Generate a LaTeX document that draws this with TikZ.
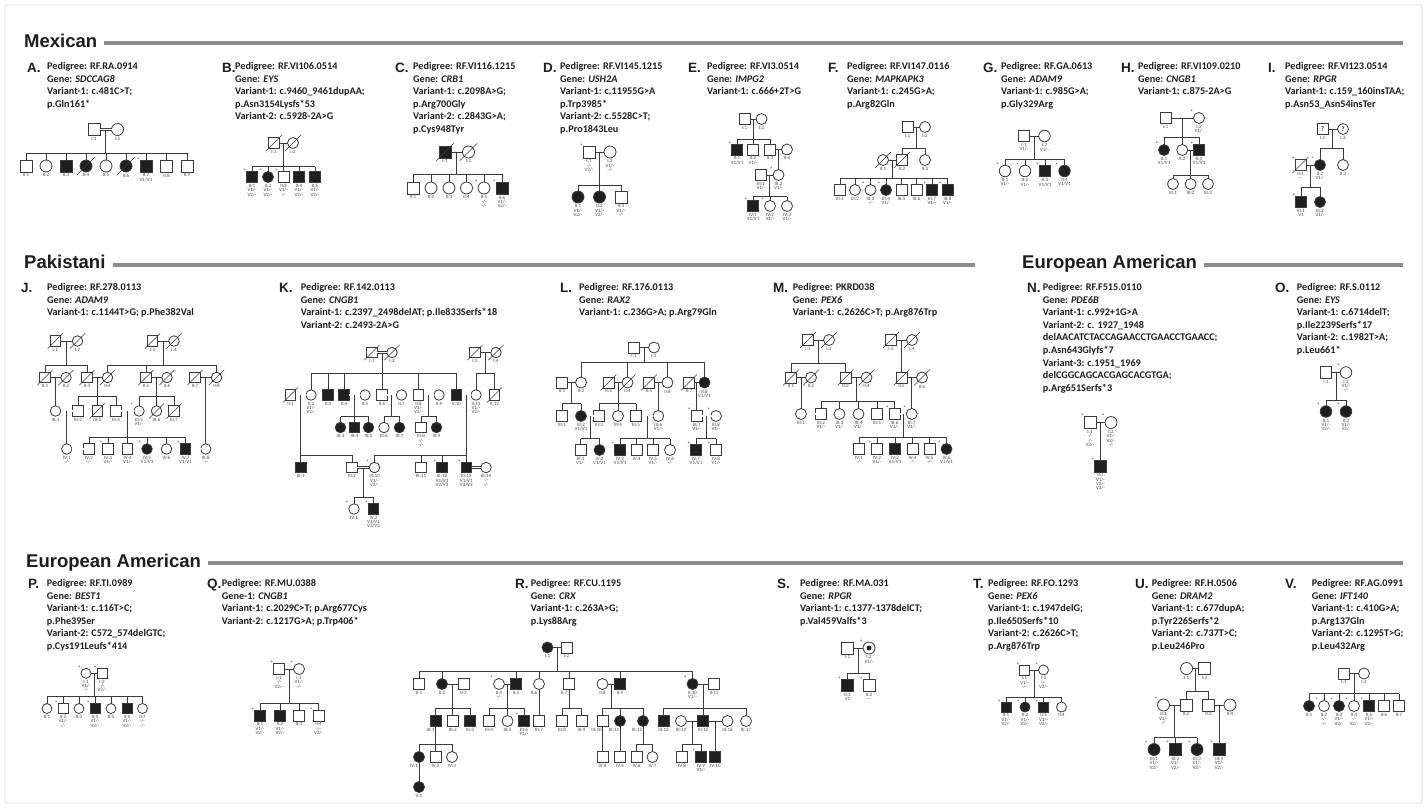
\documentclass[tikz,border=0pt]{standalone}
\usepackage{fontspec}
\setmainfont{Carlito}
\newfontfamily\arialf{Liberation Sans}
\usetikzlibrary{calc}
\definecolor{lc}{HTML}{3A3A3A}
\definecolor{af}{HTML}{1F1F1F}
\definecolor{lt}{HTML}{4A4A4A}
\definecolor{tx}{HTML}{1E1E1E}
\definecolor{barc}{HTML}{8C8C8C}
\newcommand\labfont{\fontsize{5}{4.3}\selectfont}
\def\sz{11}
\tikzset{
 sym/.style={draw=lc,line width=0.8pt,minimum size=\sz pt,inner sep=0pt,outer sep=0pt,fill=white},
 mal/.style={sym,rectangle},
 fem/.style={sym,circle},
 aff/.style={fill=af},
 qm/.style={font=\fontsize{7}{7}\selectfont\bfseries,text=lc},
 lab/.style={font=\labfont,align=center,inner sep=0pt,text=lt,anchor=north},
 ln/.style={draw=lc,line width=0.75pt},
 dbl/.style={draw=lc,line width=0.5pt,double=white,double distance=1.3pt},
 astl/.style={font=\fontsize{6.5}{6.5}\selectfont,inner sep=0pt,text=lt},
 ptx/.style={anchor=base west,inner sep=0pt,font=\fontsize{10.2}{12.6}\selectfont\bfseries,text=tx},
 plet/.style={anchor=base west,inner sep=0pt,font=\arialf\bfseries\fontsize{13.5}{15}\selectfont,text=tx},
 hdr/.style={anchor=base west,inner sep=0pt,font=\arialf\bfseries\fontsize{18.5}{20}\selectfont,text=tx},
 hbar/.style={draw=barc,line width=4pt},
}
\newcommand\pers[5]{\node[#1] (#2) at (#3,#4) {};\node[lab] (#2-l) at (#3,#4+\sz/2+1.5) {#5};}
\newcommand\persx[6]{\node[#1] (#2) at (#3,#4) {};\node[lab] (#2-l) at (#3+#6,#4+\sz/2+1.5) {#5};}
\newcommand\persc[6]{\node[#1] (#2) at (#3,#4) {#6};\node[lab] (#2-l) at (#3,#4+\sz/2+1.5) {#5};}
\newcommand\dcsd[1]{\draw[ln,line width=0.6pt] ([shift={(-0.72*\sz,0.72*\sz)}]#1.center) -- ([shift={(0.72*\sz,-0.72*\sz)}]#1.center);}
\newcommand\astr[1]{\node[astl] (#1-s) at ([shift={(-\sz/2-1.7,-\sz/2-0.3)}]#1.center) {*};}
\newcommand\cpl[3]{\draw[ln] (#1) -- (#2);\coordinate (#3) at ($(#1)!0.5!(#2)$);}
\newcommand\cpld[3]{\draw[dbl] (#1) -- (#2);\coordinate (#3) at ($(#1)!0.5!(#2)$);}
\newcommand\dropl[2]{\draw[ln] (#1) -- (#1 |- #2.north);}
\newcommand\sibs[5]{\coordinate (#1-sl) at (0,#2);\draw[ln] (#1) -- (#1 |- #1-sl);\draw[ln] (#3.north |- #1-sl) -- (#4.north |- #1-sl);\foreach \kk in {#5}{\draw[ln] (\kk.north) -- (\kk.north |- #1-sl);}}
\newcommand\ptext[4]{\foreach \qq [count=\nn] in {#4}{\node[ptx] (#1-t\nn) at (#2,#3+12.6*\nn-12.6) {\qq};}}
\begin{document}
\begin{tikzpicture}[x=1pt,y=-1pt]
\useasboundingbox (0,0) rectangle (1427,807);
\fill[white] (0,0) rectangle (1427,807);
\draw[black!14,line width=0.8pt,rounded corners=2pt] (5,5) rectangle (1422,803);
% ---------- headers
\node[hdr] (hMex) at (24,47) {Mexican};
\coordinate (eMex) at (1403,0);
\draw[hbar] ([shift={(7,-4)}]hMex.base east) coordinate (sMex) -- (sMex -| eMex);
\node[hdr] (hPak) at (24,268.5) {Pakistani};
\coordinate (ePak) at (975,0);
\draw[hbar] ([shift={(7,-4)}]hPak.base east) coordinate (sPak) -- (sPak -| ePak);
\node[hdr] (hEA1) at (1022,268.5) {European American};
\draw[hbar] ([shift={(7,-4)}]hEA1.base east) coordinate (sEA1) -- (sEA1 -| eMex);
\node[hdr] (hEA2) at (26,567) {European American};
\draw[hbar] ([shift={(7,-4)}]hEA2.base east) coordinate (sEA2) -- (sEA2 -| eMex);
% ================= A
\def\sz{12}
\node[plet] (A-let) at (27,72.5) {A.};
\ptext{A}{47}{69.4}{Pedigree: RF.RA.0914,Gene: \textit{SDCCAG8},Variant-1: c.481C>T;,p.Gln161*}
\pers{mal}{A-I1}{94}{129.5}{I:1}
\pers{fem}{A-I2}{117.5}{129.5}{I:2}
\cpld{A-I1}{A-I2}{A-c1}
\pers{mal}{A-II1}{26}{166}{II:1}
\pers{fem}{A-II2}{46}{166}{II:2}
\pers{mal,aff}{A-II3}{66}{166}{II:3}
\pers{fem,aff}{A-II4}{86}{166}{II:4}\dcsd{A-II4}
\pers{fem}{A-II5}{106}{166}{II:5}
\pers{fem,aff}{A-II6}{126}{166}{II:6}\dcsd{A-II6}
\pers{mal,aff}{A-II7}{146}{166}{II:7\\V1/V1}\astr{A-II7}
\pers{mal}{A-II8}{166.5}{166}{II:8}
\pers{mal}{A-II9}{187}{166}{II:9}
\sibs{A-c1}{153}{A-II1}{A-II9}{A-II1,A-II2,A-II3,A-II4,A-II5,A-II6,A-II7,A-II8,A-II9}
% ================= B
\def\sz{11}
\node[plet] (B-let) at (222,72.5) {B.};
\ptext{B}{235}{69.4}{Pedigree: RF.VI106.0514,Gene: \textit{EYS},Variant-1: c.9460\_9461dupAA;,p.Asn3154Lysfs*53,Variant-2: c.5928-2A>G}
\pers{mal}{B-I1}{274}{143}{I:1}\dcsd{B-I1}
\pers{fem}{B-I2}{293}{143}{I:2}\dcsd{B-I2}
\cpl{B-I1}{B-I2}{B-c1}
\pers{mal,aff}{B-II1}{252}{177}{II:1\\V1/-\\V2/-}\astr{B-II1}
\pers{fem,aff}{B-II2}{268}{177}{II:2\\V1/-\\V2/-}\astr{B-II2}
\pers{mal}{B-II3}{283.5}{177}{II:3\\V1/-\\-/-}\astr{B-II3}
\pers{mal,aff}{B-II4}{299}{177}{II:4\\V1/-\\V2/-}
\pers{mal,aff}{B-II5}{315}{177}{II:5\\V1/-\\V2/-}
\sibs{B-c1}{166.5}{B-II1}{B-II5}{B-II1,B-II2,B-II3,B-II4,B-II5}
% ================= C
\def\sz{12}
\node[plet] (C-let) at (395,72.5) {C.};
\ptext{C}{413}{69.4}{Pedigree: RF.VI116.1215,Gene: \textit{CRB1},Variant-1: c.2098A>G;,p.Arg700Gly,Variant-2: c.2843G>A;,p.Cys948Tyr}
\pers{mal,aff}{C-I1}{445}{152}{I:1}\dcsd{C-I1}
\pers{fem}{C-I2}{468.5}{152}{I:2}\dcsd{C-I2}
\cpl{C-I1}{C-I2}{C-c1}
\pers{mal}{C-II1}{413}{188}{II:1}
\pers{fem}{C-II2}{431}{188}{II:2}
\pers{fem}{C-II3}{449}{188}{II:3}
\pers{fem}{C-II4}{466.5}{188}{II:4}
\pers{fem}{C-II5}{484}{188}{II:5\\-/-\\-/-}\astr{C-II5}
\pers{mal,aff}{C-II6}{502}{188}{II:6\\V1/-\\V2/-}\astr{C-II6}
\sibs{C-c1}{174}{C-II1}{C-II6}{C-II1,C-II2,C-II3,C-II4,C-II5,C-II6}
% ================= D
\def\sz{12}
\node[plet] (D-let) at (543,72.5) {D.};
\ptext{D}{560}{69.4}{Pedigree: RF.VI145.1215,Gene: \textit{USH2A},Variant-1: c.11955G>A,p.Trp3985*,Variant-2: c.5528C>T;,p.Pro1843Leu}
\pers{mal}{D-I1}{589}{152}{I:1\\-/-\\V2/-}\astr{D-I1}
\pers{fem}{D-I2}{610}{152}{I:2\\V1/-\\-/-}
\cpl{D-I1}{D-I2}{D-c1}
\pers{fem,aff}{D-II1}{578}{197}{II:1\\V1/-\\V2/-}
\pers{fem,aff}{D-II2}{599.5}{197}{II:2\\V1/-\\V2/-}
\pers{mal}{D-II3}{621}{197}{II:3\\V1/-\\-/-}
\sibs{D-c1}{185}{D-II1}{D-II3}{D-II1,D-II2,D-II3}
% ================= E
\def\sz{11}
\node[plet] (E-let) at (688,72.5) {E.};
\ptext{E}{707}{69.4}{Pedigree: RF.VI3.0514,Gene: \textit{IMPG2},Variant-1: c.666+2T>G}
\pers{mal}{E-I1}{744.5}{119}{I:1}
\pers{fem}{E-I2}{761.5}{119}{I:2}
\cpl{E-I1}{E-I2}{E-c1}
\pers{mal,aff}{E-II1}{737}{149.5}{II:1\\V1/V1}\astr{E-II1}
\pers{mal}{E-II2}{753}{149.5}{II:2\\V1/-}
\pers{mal}{E-II3}{770}{149.5}{II:3}
\pers{fem}{E-II4}{787}{149.5}{II:4}
\sibs{E-c1}{139}{E-II1}{E-II3}{E-II1,E-II2,E-II3}
\cpl{E-II3}{E-II4}{E-c2}
\pers{mal}{E-III1}{761}{175}{III:1\\V1/-}
\pers{fem}{E-III2}{778.5}{175}{III:2\\V1/-}\astr{E-III2}
\dropl{E-c2}{E-III2}
\cpl{E-III1}{E-III2}{E-c3}
\pers{mal,aff}{E-IV1}{753}{206}{IV:1\\V1/V1}\astr{E-IV1}
\pers{fem}{E-IV2}{770}{206}{IV:2\\V1/-}\astr{E-IV2}
\pers{fem}{E-IV3}{787}{206}{IV:3\\V1/-}
\sibs{E-c3}{196.5}{E-IV1}{E-IV3}{E-IV1,E-IV2,E-IV3}
% ================= F
\def\sz{11}
\node[plet] (F-let) at (828,72.5) {F.};
\ptext{F}{847}{69.4}{Pedigree: RF.VI147.0116,Gene: \textit{MAPKAPK3},Variant-1: c.245G>A;,p.Arg82Gln}
\pers{mal}{F-I1}{907.5}{127}{I:1}
\pers{fem}{F-I2}{925}{127}{I:2}
\cpl{F-I1}{F-I2}{F-c1}
\pers{fem}{F-II1}{883}{160}{II:1}\dcsd{F-II1}
\pers{mal}{F-II2}{902}{160}{II:2}\dcsd{F-II2}
\pers{fem}{F-II3}{925}{160}{II:3}
\sibs{F-c1}{148}{F-II2}{F-II3}{F-II2,F-II3}
\cpl{F-II1}{F-II2}{F-c2}
\pers{mal}{F-III1}{840}{190}{III:1}
\pers{fem}{F-III2}{855}{190}{III:2}
\pers{fem}{F-III3}{870.5}{190}{III:3\\-/-}\astr{F-III3}
\pers{fem,aff}{F-III4}{886}{190}{III:4\\V1/-}\astr{F-III4}
\pers{mal}{F-III5}{901.5}{190}{III:5}
\pers{mal}{F-III6}{916.5}{190}{III:6}
\pers{mal,aff}{F-III7}{932}{190}{III:7\\V1/-}\astr{F-III7}
\pers{mal,aff}{F-III8}{947.5}{190}{III:8\\V1/-}\astr{F-III8}
\sibs{F-c2}{178}{F-III1}{F-III8}{F-III1,F-III2,F-III3,F-III4,F-III5,F-III6,F-III7,F-III8}
% ================= G
\def\sz{11.5}
\node[plet] (G-let) at (983,72.5) {G.};
\ptext{G}{1001}{69.4}{Pedigree: RF.GA.0613,Gene: \textit{ADAM9},Variant-1: c.985G>A;,p.Gly329Arg}
\pers{mal}{G-I1}{1024}{136}{I:1\\V1/-}
\pers{fem}{G-I2}{1044.5}{136}{I:2\\V1/-}
\cpl{G-I1}{G-I2}{G-c1}
\pers{fem}{G-II1}{1005}{171}{II:1\\V1/-}\astr{G-II1}
\pers{fem}{G-II2}{1025}{171}{II:2\\V1/-}\astr{G-II2}
\pers{mal,aff}{G-II3}{1045}{171}{II:3\\V1/V1}\astr{G-II3}
\pers{fem,aff}{G-II4}{1064.5}{171}{II:4\\V1/V1}\astr{G-II4}
\sibs{G-c1}{159}{G-II1}{G-II4}{G-II1,G-II2,G-II3,G-II4}
% ================= H
\def\sz{11}
\node[plet] (H-let) at (1121,72.5) {H.};
\ptext{H}{1138}{69.4}{Pedigree: RF.VI109.0210,Gene: \textit{CNGB1},Variant-1: c.875-2A>G}
\pers{mal}{H-I1}{1165.5}{118}{I:1}
\pers{fem}{H-I2}{1199}{118}{I:2\\V1/-}\astr{H-I2}
\cpl{H-I1}{H-I2}{H-c1}
\pers{fem,aff}{H-II1}{1164}{150}{II:1\\V1/V1}\astr{H-II1}
\pers{fem}{H-II2}{1182.25}{150}{II:2}
\pers{mal,aff}{H-II3}{1199}{150}{II:3\\V1/V1}\astr{H-II3}
\sibs{H-c1}{137}{H-II1}{H-II3}{H-II1,H-II2,H-II3}
\cpl{H-II2}{H-II3}{H-c2}
\pers{fem}{H-III1}{1173}{184}{III:1}
\pers{fem}{H-III2}{1190.6}{184}{III:2}
\pers{fem}{H-III3}{1208}{184}{III:3}
\sibs{H-c2}{175}{H-III1}{H-III3}{H-III1,H-III2,H-III3}
% ================= I
\def\sz{11}
\node[plet] (I-let) at (1268,72.5) {I.};
\ptext{I}{1285}{69.4}{Pedigree: RF.VI123.0514,Gene: \textit{RPGR},Variant-1: c.159\_160insTAA;,p.Asn53\_Asn54insTer}
\persc{mal,qm}{I-I1}{1322.5}{129}{I:1}{?}
\persc{fem,qm}{I-I2}{1343}{129}{I:2}{?}
\cpl{I-I1}{I-I2}{I-c1}
\pers{mal}{I-II1}{1300.5}{165}{II:1\\\textemdash}\dcsd{I-II1}\astr{I-II1}
\pers{fem,aff}{I-II2}{1320}{165}{II:2\\V1/-}\astr{I-II2}
\pers{fem}{I-II3}{1343}{165}{II:3}
\sibs{I-c1}{148}{I-II2}{I-II3}{I-II2,I-II3}
\cpl{I-II1}{I-II2}{I-c2}
\pers{mal,aff}{I-III1}{1301}{202}{III:1\\V1}\astr{I-III1}
\pers{fem,aff}{I-III2}{1320}{202}{III:2\\V1/-}
\sibs{I-c2}{187}{I-III1}{I-III2}{I-III1,I-III2}
% ================= J
\def\sz{10.5}
\node[plet] (J-let) at (21,292.5) {J.};
\ptext{J}{47}{290.4}{Pedigree: RF.278.0113,Gene: \textit{ADAM9},Variant-1: c.1144T>G; p.Phe382Val}
\pers{mal}{J-I1}{55.3}{341}{I:1}\dcsd{J-I1}
\pers{fem}{J-I2}{77.5}{341}{I:2}\dcsd{J-I2}
\cpl{J-I1}{J-I2}{J-c1}
\pers{mal}{J-I3}{152.5}{341}{I:3}\dcsd{J-I3}
\pers{fem}{J-I4}{174}{341}{I:4}\dcsd{J-I4}
\cpl{J-I3}{J-I4}{J-c2}
\pers{mal}{J-II1}{45}{377.5}{II:1}\dcsd{J-II1}
\pers{fem}{J-II2}{66}{377.5}{II:2}\dcsd{J-II2}
\pers{mal}{J-II3}{87}{377.5}{II:3}\dcsd{J-II3}
\pers{fem}{J-II4}{107.5}{377.5}{II:4}\dcsd{J-II4}
\pers{mal}{J-II5}{146}{377.5}{II:5}\dcsd{J-II5}
\pers{fem}{J-II6}{167}{377.5}{II:6}\dcsd{J-II6}
\pers{mal}{J-II7}{195}{377.5}{II:7}\dcsd{J-II7}
\pers{fem}{J-II8}{216.5}{377.5}{II:8}\dcsd{J-II8}
\sibs{J-c1}{365}{J-II1}{J-II3}{J-II1,J-II3}
\sibs{J-c2}{365}{J-II4}{J-II8}{J-II4,J-II5,J-II8}
\cpl{J-II1}{J-II2}{J-c3}
\cpl{J-II3}{J-II4}{J-c4}
\cpl{J-II5}{J-II6}{J-c5}
\cpl{J-II7}{J-II8}{J-c6}
\pers{fem}{J-III1}{55.5}{411}{III:1}
\pers{mal}{J-III2}{78}{411}{III:2}
\pers{mal}{J-III3}{97.25}{411}{III:3}\dcsd{J-III3}
\pers{mal}{J-III4}{116}{411}{III:4}
\pers{fem}{J-III5}{139}{411}{III:5\\V1/-}\astr{J-III5}
\pers{fem}{J-III6}{156.5}{411}{III:6}\dcsd{J-III6}
\pers{mal}{J-III7}{174}{411}{III:7}\dcsd{J-III7}
\dropl{J-c3}{J-III1}
\sibs{J-c4}{396}{J-III2}{J-III4}{J-III2,J-III3,J-III4}
\sibs{J-c5}{396}{J-III5}{J-III7}{J-III5,J-III6,J-III7}
\cpld{J-III1}{J-III2}{J-c7}
\cpld{J-III4}{J-III5}{J-c8}
\pers{fem}{J-IV1}{66.75}{449}{IV:1\\-/-}
\pers{mal}{J-IV2}{89}{449}{IV:2\\-/-}
\pers{mal}{J-IV3}{108}{449}{IV:3\\V1/-}\astr{J-IV3}
\pers{mal}{J-IV4}{127.5}{449}{IV:4\\V1/-}
\pers{fem,aff}{J-IV5}{147}{449}{IV:5\\V1/V1}\astr{J-IV5}
\pers{fem}{J-IV6}{166.5}{449}{IV:6}
\pers{mal,aff}{J-IV7}{185.5}{449}{IV:7\\V1/V1}\astr{J-IV7}
\pers{fem}{J-III8}{205.75}{449}{III:8\\-/-}
\dropl{J-c7}{J-IV1}
\sibs{J-c8}{437.5}{J-IV2}{J-IV7}{J-IV2,J-IV3,J-IV4,J-IV5,J-IV6,J-IV7}
\dropl{J-c6}{J-III8}
\cpld{J-IV1}{J-IV2}{J-c9}
\cpld{J-IV7}{J-III8}{J-c10}
% ================= K
\def\sz{10.5}
\node[plet] (K-let) at (279,292.5) {K.};
\ptext{K}{300.7}{290.4}{Pedigree: RF.142.0113,Gene: \textit{CNGB1},Varaint-1: c.2397\_2498delAT; p.Ile833Serfs*18,Variant-2: c.2493-2A>G}
\pers{mal}{K-I1}{372}{352.5}{I:1}\dcsd{K-I1}
\pers{fem}{K-I2}{392}{352.5}{I:2}\dcsd{K-I2}
\cpld{K-I1}{K-I2}{K-c1}
\pers{mal}{K-I3}{475}{352.5}{I:3}\dcsd{K-I3}
\pers{fem}{K-I4}{496}{352.5}{I:4}\dcsd{K-I4}
\cpl{K-I3}{K-I4}{K-c2}
\pers{mal}{K-II1}{290.5}{395}{II:1}\dcsd{K-II1}
\pers{fem}{K-II2}{311}{395}{II:2\\V1/-\\V2/-}
\pers{mal,aff}{K-II3}{328}{395}{II:3}
\pers{mal,aff}{K-II4}{344}{395}{II:4}
\pers{fem}{K-II5}{365}{395}{II:5}
\pers{mal}{K-II6}{382}{395}{II:6}
\pers{fem}{K-II7}{401.5}{395}{II:7}
\pers{mal}{K-II8}{418.5}{395}{II:8\\V1/-\\V2/-}
\pers{fem}{K-II9}{439}{395}{II:9}
\pers{mal,aff}{K-II10}{456.5}{395}{II:10}
\pers{fem}{K-II11}{476}{395}{II:11\\V1/-\\V2/-}
\pers{mal}{K-II12}{494.5}{395}{II:12}\dcsd{K-II12}
\sibs{K-c1}{373.5}{K-II2}{K-II10}{K-II2,K-II3,K-II4,K-II6,K-II8,K-II10}
\sibs{K-c2}{373.5}{K-II11}{K-II12}{K-II11,K-II12}
\cpld{K-II1}{K-II2}{K-c3}
\cpld{K-II4}{K-II5}{K-c4}
\cpld{K-II6}{K-II7}{K-c5}
\cpld{K-II8}{K-II9}{K-c6}
\cpld{K-II10}{K-II11}{K-c7}
\pers{fem,aff}{K-III3}{340.5}{427.5}{III:3}
\pers{mal,aff}{K-III4}{354.5}{427.5}{III:4}
\pers{fem,aff}{K-III5}{368.5}{427.5}{III:5}
\pers{fem}{K-III6}{384}{427.5}{III:6}
\pers{fem,aff}{K-III7}{399.5}{427.5}{III:7}
\pers{mal}{K-III8}{421}{427.5}{III:8\\-/-\\-/-}
\pers{fem,aff}{K-III9}{436.5}{427.5}{III:9}
\sibs{K-c4}{416.5}{K-III3}{K-III5}{K-III3,K-III4,K-III5}
\sibs{K-c5}{416.5}{K-III6}{K-III7}{K-III6,K-III7}
\sibs{K-c6}{416.5}{K-III8}{K-III9}{K-III8,K-III9}
\pers{mal,aff}{K-III1}{300.75}{467.5}{III:1}
\pers{mal}{K-III2}{352}{467.5}{III:2}
\pers{fem}{K-III10}{374.5}{467.5}{III:10\\V1/-\\V2/-}\astr{K-III10}
\pers{mal}{K-III11}{421}{467.5}{III:11}
\pers{mal,aff}{K-III12}{442}{467.5}{III:12\\V1/V1\\V2/V2}\astr{K-III12}
\pers{mal,aff}{K-III13}{466.25}{467.5}{III:13\\V1/V1\\V2/V2}\astr{K-III13}
\pers{fem}{K-III14}{486}{467.5}{III:14\\-/-\\-/-}
\sibs{K-c3}{455}{K-III1}{K-III2}{K-III1,K-III2}
\sibs{K-c7}{455}{K-III10}{K-III13}{K-III10,K-III11,K-III12,K-III13}
\cpld{K-III2}{K-III10}{K-c8}
\cpld{K-III13}{K-III14}{K-c9}
\pers{fem}{K-IV1}{354}{509}{IV:1}\astr{K-IV1}
\pers{mal,aff}{K-IV2}{373.5}{509}{IV:2\\V1/V1\\V2/V2}\astr{K-IV2}
\sibs{K-c8}{497}{K-IV1}{K-IV2}{K-IV1,K-IV2}
% ================= L
\def\sz{11}
\node[plet] (L-let) at (560,292.5) {L.};
\ptext{L}{579}{290.4}{Pedigree: RF.176.0113,Gene: \textit{RAX2},Variant-1: c.236G>A; p.Arg79Gln}
\pers{mal}{L-I1}{634}{347.5}{I:1}
\pers{fem}{L-I2}{654}{347.5}{I:2}
\cpl{L-I1}{L-I2}{L-c1}
\pers{mal}{L-II1}{562}{382.5}{II:1}
\pers{fem}{L-II2}{581}{382.5}{II:2}
\pers{mal}{L-II3}{608.5}{382.5}{II:3}\dcsd{L-II3}
\pers{fem}{L-II4}{627.5}{382.5}{II:4}\dcsd{L-II4}
\pers{mal}{L-II5}{649}{382.5}{II:5}\dcsd{L-II5}
\pers{fem}{L-II6}{667.5}{382.5}{II:6}
\pers{mal}{L-II7}{689}{382.5}{II:7}\dcsd{L-II7}
\pers{fem,aff}{L-II8}{704.5}{382.5}{II:8\\V1/V1}
\sibs{L-c1}{362.5}{L-II2}{L-II8}{L-II2,L-II4,L-II6,L-II8}
\cpl{L-II1}{L-II2}{L-c2}
\cpl{L-II3}{L-II4}{L-c3}
\cpl{L-II5}{L-II6}{L-c4}
\cpl{L-II7}{L-II8}{L-c5}
\pers{mal}{L-III1}{562}{416}{III:1}
\pers{fem,aff}{L-III2}{581}{416}{III:2\\V1/V1}
\pers{mal}{L-III3}{599}{416}{III:3}
\pers{fem}{L-III4}{618}{416}{III:4}
\pers{mal}{L-III5}{636}{416}{III:5}
\pers{fem}{L-III6}{658.25}{416}{III:6\\V1/-}
\pers{mal}{L-III7}{696.75}{416}{III:7\\V1/-}\astr{L-III7}
\pers{fem}{L-III8}{716}{416}{III:8\\V1/-}\astr{L-III8}
\sibs{L-c2}{403.5}{L-III1}{L-III2}{L-III1,L-III2}
\sibs{L-c3}{403.5}{L-III3}{L-III5}{L-III3,L-III4,L-III5}
\dropl{L-c4}{L-III6}
\dropl{L-c5}{L-III7}
\cpld{L-III2}{L-III3}{L-c6}
\cpld{L-III5}{L-III6}{L-c7}
\cpld{L-III7}{L-III8}{L-c8}
\pers{mal}{L-IV1}{580.5}{450}{IV:1\\V1/-}
\pers{fem,aff}{L-IV2}{599.5}{450}{IV:2\\V1/V1}
\pers{mal,aff}{L-IV3}{620}{450}{IV:3\\V1/V1}\astr{L-IV3}
\pers{mal}{L-IV4}{636.5}{450}{IV:4}
\pers{mal}{L-IV5}{653}{450}{IV:5\\V1/-}
\pers{fem}{L-IV6}{670}{450}{IV:6\\-/-}
\pers{mal,aff}{L-IV7}{696}{450}{IV:7\\V1/V1}\astr{L-IV7}
\pers{mal}{L-IV8}{716}{450}{IV:8\\V1/-}\astr{L-IV8}
\sibs{L-c6}{438.5}{L-IV1}{L-IV2}{L-IV1,L-IV2}
\sibs{L-c7}{438.5}{L-IV3}{L-IV6}{L-IV3,L-IV4,L-IV5,L-IV6}
\sibs{L-c8}{438.5}{L-IV7}{L-IV8}{L-IV7,L-IV8}
% ================= M
\def\sz{11}
\node[plet] (M-let) at (773,292.5) {M.};
\ptext{M}{792.7}{290.4}{Pedigree: PKRD038,Gene: \textit{PEX6},Variant-1: c.2626C>T; p.Arg876Trp}
\pers{mal}{M-I1}{808}{340}{I:1}\dcsd{M-I1}
\pers{fem}{M-I2}{829}{340}{I:2}\dcsd{M-I2}
\cpl{M-I1}{M-I2}{M-c1}
\pers{mal}{M-I3}{891}{340}{I:3}\dcsd{M-I3}
\pers{fem}{M-I4}{912}{340}{I:4}\dcsd{M-I4}
\cpl{M-I3}{M-I4}{M-c2}
\pers{mal}{M-II1}{791}{377.5}{II:1}\dcsd{M-II1}
\pers{fem}{M-II2}{811}{377.5}{II:2}\dcsd{M-II2}
\pers{mal}{M-II3}{845.5}{377.5}{II:3}\dcsd{M-II3}
\pers{fem}{M-II4}{866.5}{377.5}{II:4}\dcsd{M-II4}
\pers{mal}{M-II5}{901.5}{377.5}{II:5}\dcsd{M-II5}
\pers{fem}{M-II6}{922}{377.5}{II:6}\dcsd{M-II6}
\sibs{M-c1}{363.5}{M-II1}{M-II3}{M-II1,M-II3}
\dropl{M-c2}{M-II5}
\cpl{M-II1}{M-II2}{M-c3}
\cpl{M-II3}{M-II4}{M-c4}
\cpl{M-II5}{M-II6}{M-c5}
\pers{fem}{M-III1}{801}{414}{III:1}
\pers{mal}{M-III2}{821}{414}{III:2\\V1/-}
\pers{fem}{M-III3}{839.5}{414}{III:3\\V1/-}
\pers{fem}{M-III4}{858.5}{414}{III:4\\V1/-}
\pers{mal}{M-III5}{877}{414}{III:5}
\pers{mal}{M-III6}{894.5}{414}{III:6\\V1/-}\astr{M-III6}
\pers{fem}{M-III7}{911.75}{414}{III:7\\V1/-}\astr{M-III7}
\dropl{M-c3}{M-III1}
\sibs{M-c4}{401}{M-III2}{M-III6}{M-III2,M-III3,M-III4,M-III5,M-III6}
\dropl{M-c5}{M-III7}
\cpld{M-III1}{M-III2}{M-c6}
\cpld{M-III6}{M-III7}{M-c7}
\pers{mal}{M-IV1}{859}{449}{IV:1\\-/-}
\pers{mal}{M-IV2}{877}{449}{IV:2\\V1/-}\astr{M-IV2}
\pers{mal,aff}{M-IV3}{895}{449}{IV:3\\V1/V1}
\pers{mal}{M-IV4}{912.5}{449}{IV:4\\-/-}
\pers{mal}{M-IV5}{929.5}{449}{IV:5\\-/-}
\pers{fem,aff}{M-IV6}{946.5}{449}{IV:6\\V1/V1}\astr{M-IV6}
\sibs{M-c7}{437}{M-IV1}{M-IV6}{M-IV1,M-IV2,M-IV3,M-IV4,M-IV5,M-IV6}
% ================= N
\def\sz{12}
\node[plet] (N-let) at (1027,292.5) {N.};
\ptext{N}{1042.7}{290.4}{Pedigree: RF.F515.0110,Gene: \textit{PDE6B},Variant-1: c.992+1G>A,Variant-2: c. 1927\_1948,delAACATCTACCAGAACCTGAACCTGAACC;,p.Asn643Glyfs*7,Variant-3: c.1951\_1969,delCGGCAGCACGAGCACGTGA;,p.Arg651Serfs*3}
\pers{mal}{N-I1}{1090}{422.5}{I:1\\-/-\\-/-\\V3/-}\astr{N-I1}
\pers{fem}{N-I2}{1111}{422.5}{I:2\\V1/-\\V2/-\\-/-}\astr{N-I2}
\cpl{N-I1}{N-I2}{N-c1}
\pers{mal,aff}{N-II1}{1100.5}{466}{II:1\\V1/-\\V2/-\\V3/-}\astr{N-II1}
\dropl{N-c1}{N-II1}
% ================= O
\def\sz{11.5}
\node[plet] (O-let) at (1275,292.5) {O.};
\ptext{O}{1296.7}{290.4}{Pedigree: RF.S.0112,Gene: \textit{EYS},Variant-1: c.6714delT;,p.Ile2239Serfs*17,Variant-2: c.1982T>A;,p.Leu661*}
\pers{mal}{O-I1}{1326}{372.5}{I:1}
\pers{fem}{O-I2}{1346}{372.5}{I:2\\V1/-\\-/-}\astr{O-I2}
\cpl{O-I1}{O-I2}{O-c1}
\pers{fem,aff}{O-II1}{1326}{411.5}{II:1\\V1/-\\V2/-}\astr{O-II1}
\pers{fem,aff}{O-II2}{1346}{411.5}{II:2\\V1/-\\V2/-}\astr{O-II2}
\sibs{O-c1}{400}{O-II1}{O-II2}{O-II1,O-II2}
% ================= P
\def\sz{10}
\node[plet] (P-let) at (28,588) {P.};
\ptext{P}{46.7}{586.4}{Pedigree: RF.TI.0989,Gene: \textit{BEST1},Variant-1: c.116T>C;,p.Phe39Ser,Variant-2: C572\_574delGTC;,p.Cys191Leufs*414}
\pers{fem}{P-I1}{86}{673.3}{I:1\\V1/-\\-/-}\astr{P-I1}
\pers{mal}{P-I2}{102}{673.3}{I:2\\-/-\\V2/-}\astr{P-I2}
\cpl{P-I1}{P-I2}{P-c1}
\pers{fem}{P-II1}{47}{708.5}{II:1}
\pers{mal}{P-II2}{63}{708.5}{II:2\\V1/-\\-/-}\astr{P-II2}
\pers{fem}{P-II3}{79}{708.5}{II:3}
\pers{mal,aff}{P-II4}{95}{708.5}{II:4\\V1/-\\V2/-}\astr{P-II4}
\pers{fem}{P-II5}{111}{708.5}{II:5}
\pers{mal,aff}{P-II6}{127}{708.5}{II:6\\V1/-\\V2/-}
\pers{fem}{P-II7}{142.5}{708.5}{II:7\\-/-\\-/-}
\sibs{P-c1}{696.5}{P-II1}{P-II7}{P-II1,P-II2,P-II3,P-II4,P-II5,P-II6,P-II7}
% ================= Q
\def\sz{11}
\node[plet] (Q-let) at (207,588) {Q.};
\ptext{Q}{221.7}{586.4}{Pedigree: RF.MU.0388,Gene-1: \textit{CNGB1},Variant-1: c.2029C>T; p.Arg677Cys,Variant-2: c.1217G>A; p.Trp406*}
\pers{mal}{Q-I1}{279}{669}{I:1\\-/-\\V2/-}\astr{Q-I1}
\pers{fem}{Q-I2}{299}{669}{I:2\\V1/-\\-/-}\astr{Q-I2}
\cpl{Q-I1}{Q-I2}{Q-c1}
\pers{mal,aff}{Q-II1}{260}{715.5}{II:1\\V1/-\\V2/-}\astr{Q-II1}
\pers{mal,aff}{Q-II2}{280}{715.5}{II:2\\V1/-\\V2/-}
\pers{mal}{Q-II3}{299}{715.5}{II:3}
\pers{mal}{Q-II4}{318.5}{715.5}{II:4\\-/-\\V2/-}\astr{Q-II4}
\sibs{Q-c1}{703.5}{Q-II1}{Q-II4}{Q-II1,Q-II2,Q-II3,Q-II4}
% ================= R
\def\sz{11}
\node[plet] (R-let) at (515,588) {R.};
\ptext{R}{530.7}{586.4}{Pedigree: RF.CU.1195,Gene: \textit{CRX},Variant-1: c.263A>G;,p.Lys88Arg}
\pers{fem,aff}{R-I1}{547.5}{647.5}{I:1}
\pers{mal}{R-I2}{566.5}{647.5}{I:2}
\cpl{R-I1}{R-I2}{R-c1}
\pers{mal}{R-II1}{419}{684}{II:1}
\pers{fem,aff}{R-II2}{442}{684}{II:2}
\pers{mal}{R-II3}{463.5}{684}{II:3}
\pers{fem}{R-II4}{499}{684}{II:4\\-/-}\astr{R-II4}
\pers{mal,aff}{R-II5}{516}{684}{II:5}
\persx{fem}{R-II6}{539}{684}{II:6}{-5}
\persx{mal}{R-II7}{569}{684}{II:7}{-5}
\pers{fem}{R-II8}{602.5}{684}{II:8}
\pers{mal,aff}{R-II9}{620}{684}{II:9}
\pers{fem,aff}{R-II10}{692.5}{684}{II:10\\V1/-}\astr{R-II10}
\pers{mal}{R-II11}{714}{684}{II:11}
\sibs{R-c1}{671}{R-II1}{R-II10}{R-II1,R-II2,R-II5,R-II6,R-II7,R-II9,R-II10}
\cpl{R-II2}{R-II3}{R-c2}
\cpl{R-II4}{R-II5}{R-c3}
\cpl{R-II8}{R-II9}{R-c4}
\cpl{R-II10}{R-II11}{R-c5}
\persx{mal,aff}{R-III1}{435.5}{721}{III:1}{-5}
\pers{mal}{R-III2}{452.75}{721}{III:2}
\pers{mal,aff}{R-III3}{470}{721}{III:3}
\pers{mal}{R-III4}{489}{721}{III:4}
\pers{fem}{R-III5}{507.5}{721}{III:5}
\pers{mal,aff}{R-III6}{524}{721}{III:6\\V1/-}\astr{R-III6}
\pers{mal}{R-III7}{539}{721}{III:7}
\pers{mal}{R-III8}{562}{721}{III:8}
\pers{mal}{R-III9}{581.5}{721}{III:9}
\persx{mal}{R-III10}{602.5}{721}{III:10}{-6}
\persx{fem,aff}{R-III11}{620}{721}{III:11}{-6}
\persx{fem,aff}{R-III12}{643}{721}{III:12}{-6}
\pers{mal,aff}{R-III13}{663.5}{721}{III:13}
\pers{fem}{R-III14}{681}{721}{III:14}
\pers{mal,aff}{R-III15}{703.25}{721}{III:15}
\pers{fem}{R-III16}{727.5}{721}{III:16}
\pers{fem}{R-III17}{746}{721}{III:17}
\sibs{R-c2}{708}{R-III1}{R-III3}{R-III1,R-III2,R-III3}
\sibs{R-c3}{708}{R-III4}{R-III6}{R-III4,R-III5,R-III6}
\coordinate (R-p6) at (R-II6.south);
\dropl{R-p6}{R-III7}
\coordinate (R-p7) at (R-II7.south);
\sibs{R-p7}{708}{R-III8}{R-III9}{R-III8,R-III9}
\sibs{R-c4}{708}{R-III10}{R-III12}{R-III10,R-III11,R-III12}
\sibs{R-c5}{708}{R-III13}{R-III17}{R-III13,R-III15,R-III17}
\cpl{R-III14}{R-III15}{R-c6}
\cpl{R-III15}{R-III16}{R-c7}
\persx{fem,aff}{R-IV1}{419}{757}{IV:1}{-5}
\pers{mal}{R-IV2}{435.5}{757}{IV:2}
\pers{fem}{R-IV3}{452}{757}{IV:3}
\coordinate (R-p31) at (R-III1.south);
\sibs{R-p31}{744}{R-IV1}{R-IV3}{R-IV1,R-IV2,R-IV3}
\pers{mal}{R-IV4}{602.5}{757}{IV:4}
\coordinate (R-p310) at (R-III10.south);
\dropl{R-p310}{R-IV4}
\pers{mal}{R-IV5}{620}{757}{IV:5}
\coordinate (R-p311) at (R-III11.south);
\dropl{R-p311}{R-IV5}
\pers{mal}{R-IV6}{636.5}{757}{IV:6}
\pers{fem}{R-IV7}{652.5}{757}{IV:7}
\coordinate (R-p312) at (R-III12.south);
\sibs{R-p312}{744}{R-IV6}{R-IV7}{R-IV6,R-IV7}
\pers{mal}{R-IV8}{682}{757}{IV:8}
\pers{mal,aff}{R-IV9}{701}{757}{IV:9\\V1/-}\astr{R-IV9}
\sibs{R-c6}{744}{R-IV8}{R-IV9}{R-IV8,R-IV9}
\pers{mal,aff}{R-IV10}{715.375}{757}{IV:10}
\dropl{R-c7}{R-IV10}
\pers{fem,aff}{R-V1}{419}{787}{V:1}
\coordinate (R-p41) at (R-IV1.south);
\dropl{R-p41}{R-V1}
% ================= S
\def\sz{12}
\node[plet] (S-let) at (777,588) {S.};
\ptext{S}{800}{586.4}{Pedigree: RF.MA.031,Gene: \textit{RPGR},Variant-1: c.1377-1378delCT;,p.Val459Valfs*3}
\pers{mal}{S-I1}{847.5}{648}{I:1}
\pers{fem}{S-I2}{869}{648}{I:2\\V1/-}\astr{S-I2}
\fill[af] (S-I2.center) circle[radius=2.4pt];
\cpl{S-I1}{S-I2}{S-c1}
\pers{mal,aff}{S-II1}{847.5}{685.5}{II:1\\V1}\astr{S-II1}
\pers{mal}{S-II2}{869}{685.5}{II:2\\\textemdash}\astr{S-II2}
\sibs{S-c1}{673}{S-II1}{S-II2}{S-II1,S-II2}
% ================= T
\def\sz{10}
\node[plet] (T-let) at (973,588) {T.};
\ptext{T}{988}{586.4}{Pedigree: RF.FO.1293,Gene: \textit{PEX6},Variant-1: c.1947delG;,p.Ile650Serfs*10,Variant-2: c.2626C>T;,p.Arg876Trp}
\pers{mal}{T-I1}{1024.5}{670}{I:1\\V1/-\\-/-}\astr{T-I1}
\pers{fem}{T-I2}{1043.5}{670}{I:2\\-/-\\V2/-}\astr{T-I2}
\cpl{T-I1}{T-I2}{T-c1}
\pers{mal,aff}{T-II1}{1006}{707}{II:1\\V1/-\\V2/-}\astr{T-II1}
\pers{fem,aff}{T-II2}{1025}{707}{II:2\\V1/-\\V2/-}\astr{T-II2}
\pers{mal,aff}{T-II3}{1043.5}{707}{II:3\\V1/-\\V2/-}\astr{T-II3}
\pers{fem}{T-II4}{1061.5}{707}{II:4}
\sibs{T-c1}{697}{T-II1}{T-II4}{T-II1,T-II2,T-II3,T-II4}
% ================= U
\def\sz{12}
\node[plet] (U-let) at (1135,588) {U.};
\ptext{U}{1151.7}{586.4}{Pedigree: RF.H.0506,Gene: \textit{DRAM2},Variant-1: c.677dupA;,p.Tyr226Serfs*2,Variant-2: c.737T>C;,p.Leu246Pro}
\pers{fem}{U-I1}{1186.5}{668.5}{I:1}
\pers{mal}{U-I2}{1204.5}{668.5}{I:2}
\cpl{U-I1}{U-I2}{U-c1}
\pers{fem}{U-II1}{1163.5}{705}{II:1\\V1/-\\-/-}\astr{U-II1}
\pers{mal}{U-II2}{1186}{705}{II:2}
\pers{mal}{U-II3}{1208.5}{705}{II:3}
\pers{fem}{U-II4}{1230}{705}{II:4}
\sibs{U-c1}{691}{U-II2}{U-II3}{U-II2,U-II3}
\cpl{U-II1}{U-II2}{U-c2}
\cpl{U-II3}{U-II4}{U-c3}
\pers{fem,aff}{U-III1}{1154}{749.5}{III:1\\V1/-\\V2/-}\astr{U-III1}
\pers{mal,aff}{U-III2}{1175.5}{749.5}{III:2\\V1/-\\V2/-}\astr{U-III2}
\pers{fem,aff}{U-III3}{1197}{749.5}{III:3\\V1/-\\V2/-}\astr{U-III3}
\pers{mal,aff}{U-III4}{1219.25}{749.5}{III:4\\V1/-\\V2/-}\astr{U-III4}
\sibs{U-c2}{737.5}{U-III1}{U-III3}{U-III1,U-III2,U-III3}
\dropl{U-c3}{U-III4}
% ================= V
\def\sz{11}
\node[plet] (V-let) at (1285,588) {V.};
\ptext{V}{1311.7}{586.4}{Pedigree: RF.AG.0991,Gene: \textit{IFT140},Variant-1: c.410G>A;,p.Arg137Gln,Variant-2: c.1295T>G;,p.Leu432Arg}
\pers{mal}{V-I1}{1344}{673.5}{I:1}
\pers{fem}{V-I2}{1364}{673.5}{I:2}
\cpl{V-I1}{V-I2}{V-c1}
\pers{fem,aff}{V-II1}{1309}{706}{II:1}
\pers{fem}{V-II2}{1324}{706}{II:2\\-/-\\-/-}\astr{V-II2}
\pers{fem,aff}{V-II3}{1339}{706}{II:3\\V1/-\\V2/-}\astr{V-II3}
\pers{fem}{V-II4}{1354}{706}{II:4\\-/-\\V2/-}\astr{V-II4}
\pers{mal,aff}{V-II5}{1369}{706}{II:5\\V1/-\\V2/-}\astr{V-II5}
\pers{mal}{V-II6}{1384}{706}{II:6}
\pers{mal}{V-II7}{1399}{706}{II:7}
\sibs{V-c1}{693.5}{V-II1}{V-II7}{V-II1,V-II2,V-II3,V-II4,V-II5,V-II6,V-II7}
\end{tikzpicture}
\end{document}
